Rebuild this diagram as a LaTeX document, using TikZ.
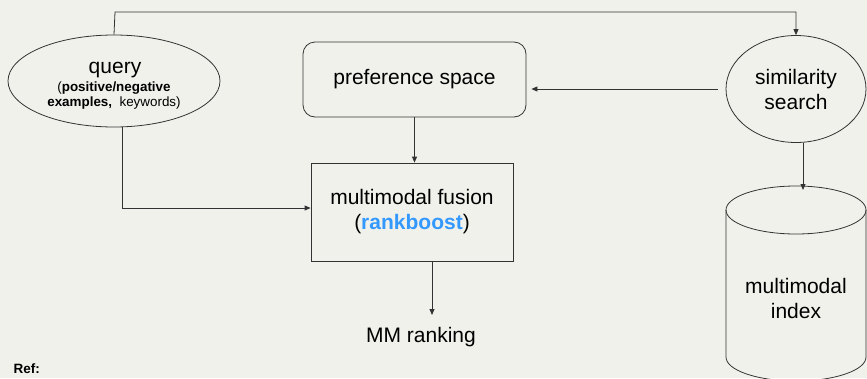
\documentclass[tikz,border=0pt]{standalone}
\usepackage{fontspec}
\setmainfont{Liberation Sans}
\usetikzlibrary{shapes.geometric,arrows.meta}
\definecolor{bgc}{HTML}{F1F1EC}
\definecolor{linec}{HTML}{333333}
\definecolor{blueboost}{HTML}{3399FF}
\tikzset{
  conn/.style={draw=linec, line width=0.8pt},
  arr/.style={conn, -{Triangle[length=6pt,width=5pt]}},
  shp/.style={draw=linec, line width=0.8pt},
  big/.style={font=\fontsize{21}{25}\selectfont, align=center, text=black},
  small/.style={font=\fontsize{13.4}{16}\selectfont, anchor=base, inner sep=0pt},
}
\begin{document}
\begin{tikzpicture}[x=1pt,y=-1pt]
\useasboundingbox[fill=bgc] (0,0) rectangle (867,378);
% nodes
\node[shp, ellipse, minimum width=212pt, minimum height=92pt, inner sep=0pt] (query) at (114,81) {};
\node[font=\fontsize{21}{25}\selectfont, anchor=base, inner sep=0pt] (qt1) at (115,73) {query};
\node[small] (qt2) at (114,91) {(\textbf{positive/negative}};
\node[small] (qt3) at (114,106) {\textbf{examples,}\ \ keywords)};
\node[shp, rounded corners=12pt, minimum width=223pt, minimum height=75pt, big] (pref) at (414.5,79.5) {preference space};
\node[shp, ellipse, minimum width=140pt, minimum height=107pt, inner sep=0pt, big] (sim) at (796,89) {similarity\\search};
\node[shp, minimum width=202pt, minimum height=98pt, big] (fusion) at (412,212) {multimodal fusion\\(\textcolor{blueboost}{\textbf{rankboost}})};
\node[big] (mm) at (421,337) {MM ranking};
% cylinder
\draw[shp] (726,210) -- (726,357) arc[start angle=180,end angle=360,x radius=70pt,y radius=24pt] -- (866,210);
\draw[shp] (796,210) ellipse[x radius=70pt,y radius=24pt];
\node[big] (idx) at (796,298) {multimodal\\index};
\coordinate (idxtop) at (803,190);
\node[font=\fontsize{13.5}{16}\selectfont\bfseries, anchor=west] (ref) at (10,369) {Ref:};
% connectors
\coordinate (topl) at (115,12);
\draw[arr] (query.north) -- (topl) -| (sim.north);
\draw[arr] ([xshift=-8pt]sim.west) -- ([xshift=5pt]pref.east |- sim.west);
\draw[arr] (pref.south) -- (pref.south |- fusion.north);
\draw[arr] ([xshift=8pt]query.south) |- ([yshift=4pt]fusion.west);
\draw[arr] ([xshift=7pt]sim.south) -- (idxtop);
\coordinate (mmtop) at (432,315);
\draw[arr] (fusion.south -| mmtop) -- (mmtop);
\end{tikzpicture}
\end{document}
